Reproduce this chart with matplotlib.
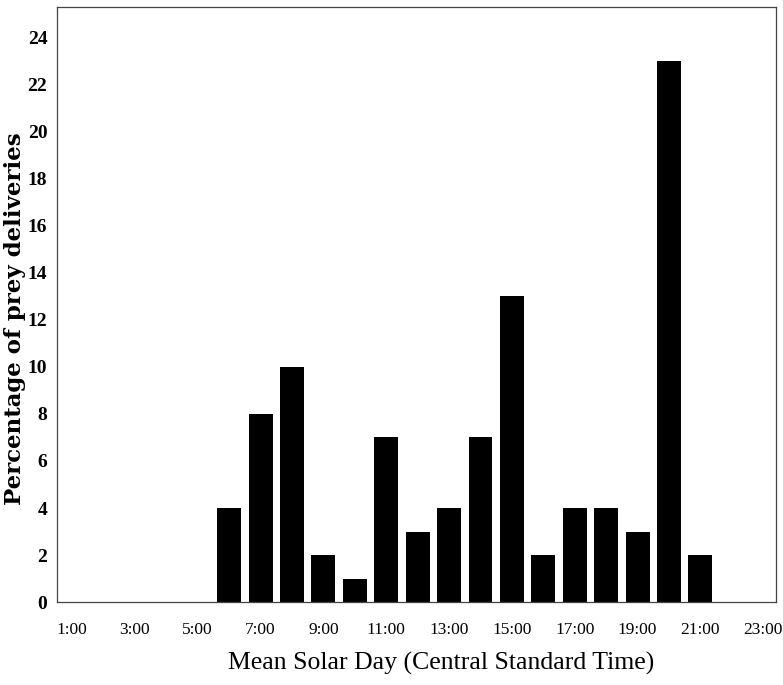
import matplotlib.pyplot as plt

hours = list(range(6, 22))
percent = [4, 8, 10, 2, 1, 7, 3, 4, 7, 13, 2, 4, 4, 3, 23, 2]
xticks = list(range(1, 24, 2))
xtick_labels = ["%d:00" % h for h in xticks]
yticks = list(range(0, 25, 2))

fig = plt.figure(figsize=(7.83, 6.85), dpi=100)
ax = fig.add_axes([0.0728, 0.121, 0.918, 0.869])

ax.bar(hours, percent, width=0.76, color="black")

ax.set_xlim(0.52, 23.4)
ax.set_ylim(0, 25.3)
ax.set_xticks(xticks)
ax.set_xticklabels(xtick_labels, fontfamily="Liberation Serif", fontsize=12.5)
ax.set_yticks(yticks)
ax.set_yticklabels([str(v) for v in yticks], fontfamily="Liberation Serif", fontweight="bold", fontsize=14)
ax.tick_params(axis="x", length=0, pad=14)
ax.tick_params(axis="y", length=0, pad=7)

for s in ax.spines.values():
    s.set_linewidth(0.9)
    s.set_color("#444444")

ax.set_xlabel("Mean Solar Day (Central Standard Time)", fontfamily="Liberation Serif",
              fontsize=18.5)
ax.xaxis.set_label_coords(0.535, -0.083)
ax.set_ylabel("Percentage of prey deliveries", fontfamily="DejaVu Serif",
              fontweight="bold", fontsize=16.5)
ax.yaxis.set_label_coords(-0.043, 0.477)

fig.savefig("out.png", dpi=100)
